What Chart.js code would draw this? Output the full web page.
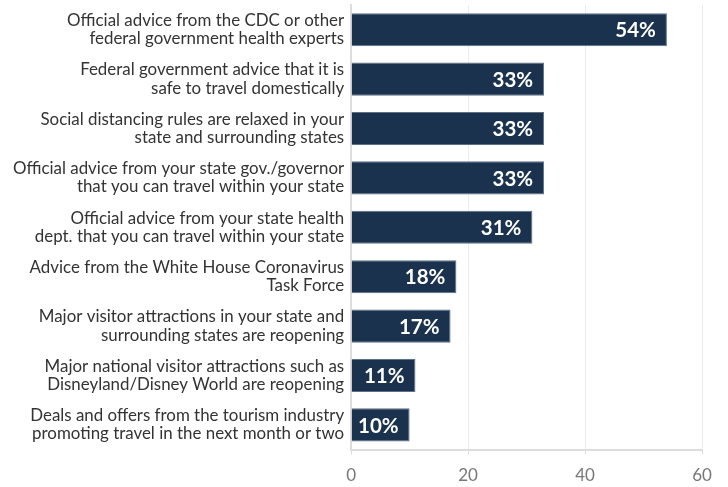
<!DOCTYPE html>
<html lang="en">
<head>
<meta charset="UTF-8">
<title>Travel advice chart</title>
<script src="https://cdn.jsdelivr.net/npm/chart.js"></script>
<style>
  html, body { margin: 0; padding: 0; background: #fff; }
  #wrap { width: 728px; height: 487px; }
</style>
</head>
<body>
<div id="wrap"><canvas id="chart"></canvas></div>
<script>
    // categories (two-line labels) and values
    const categories = [
        ['Official advice from the CDC or other', 'federal government health experts'],
        ['Federal government advice that it is', 'safe to travel domestically'],
        ['Social distancing rules are relaxed in your', 'state and surrounding states'],
        ['Official advice from your state gov./governor', 'that you can travel within your state'],
        ['Official advice from your state health', 'dept. that you can travel within your state'],
        ['Advice from the White House Coronavirus', 'Task Force'],
        ['Major visitor attractions in your state and', 'surrounding states are reopening'],
        ['Major national visitor attractions such as', 'Disneyland/Disney World are reopening'],
        ['Deals and offers from the tourism industry', 'promoting travel in the next month or two']
    ];
    const values = [54, 33, 33, 33, 31, 18, 17, 11, 10];
    const xTicks = [0, 20, 40, 60];

    // draw the % labels inside the bar ends
    const barLabels = {
        id: 'barLabels',
        afterDatasetsDraw(chart) {
            const ctx = chart.ctx;
            const meta = chart.getDatasetMeta(0);
            ctx.save();
            ctx.fillStyle = '#ffffff';
            ctx.font = 'bold 20.5px Lato';
            ctx.textAlign = 'right';
            ctx.textBaseline = 'middle';
            meta.data.forEach((bar, i) => {
                ctx.fillText(values[i] + '%', bar.x - 11, bar.y + 1);
            });
            ctx.restore();
        }
    };

    new Chart(document.getElementById('chart'), {
        type: 'bar',
        data: {
            labels: categories,
            datasets: [{
                data: values,
                backgroundColor: '#1b324f',
                borderColor: '#5d7088',
                borderWidth: 1,
                borderSkipped: 'left',
                barPercentage: 0.67,
                categoryPercentage: 1
            }]
        },
        options: {
            indexAxis: 'y',
            responsive: true,
            maintainAspectRatio: false,
            animation: false,
            layout: { padding: { top: 5, right: 26, left: 6, bottom: -10 } },
            plugins: {
                legend: { display: false },
                tooltip: { enabled: false }
            },
            scales: {
                x: {
                    min: 0,
                    max: 60,
                    afterBuildTicks(axis) {
                        axis.ticks = xTicks.map(v => ({ value: v }));
                    },
                    grid: {
                        color: '#ececec',
                        tickLength: 5,
                        tickColor: '#dddddd'
                    },
                    border: { color: '#dddddd', width: 2 },
                    ticks: {
                        color: '#777777',
                        font: { family: 'Lato', size: 17 },
                        padding: 11
                    }
                },
                y: {
                    afterFit(scale) {
                        scale.paddingTop = 0;
                        scale.paddingBottom = 0;
                    },
                    grid: { display: false, drawTicks: false, tickLength: 0 },
                    border: { color: '#dddddd', width: 2 },
                    ticks: {
                        color: '#333333',
                        font: { family: 'Lato', size: 16.9, lineHeight: 1.08 },
                        padding: 7
                    }
                }
            }
        },
        plugins: [barLabels]
    });
</script>
</body>
</html>
